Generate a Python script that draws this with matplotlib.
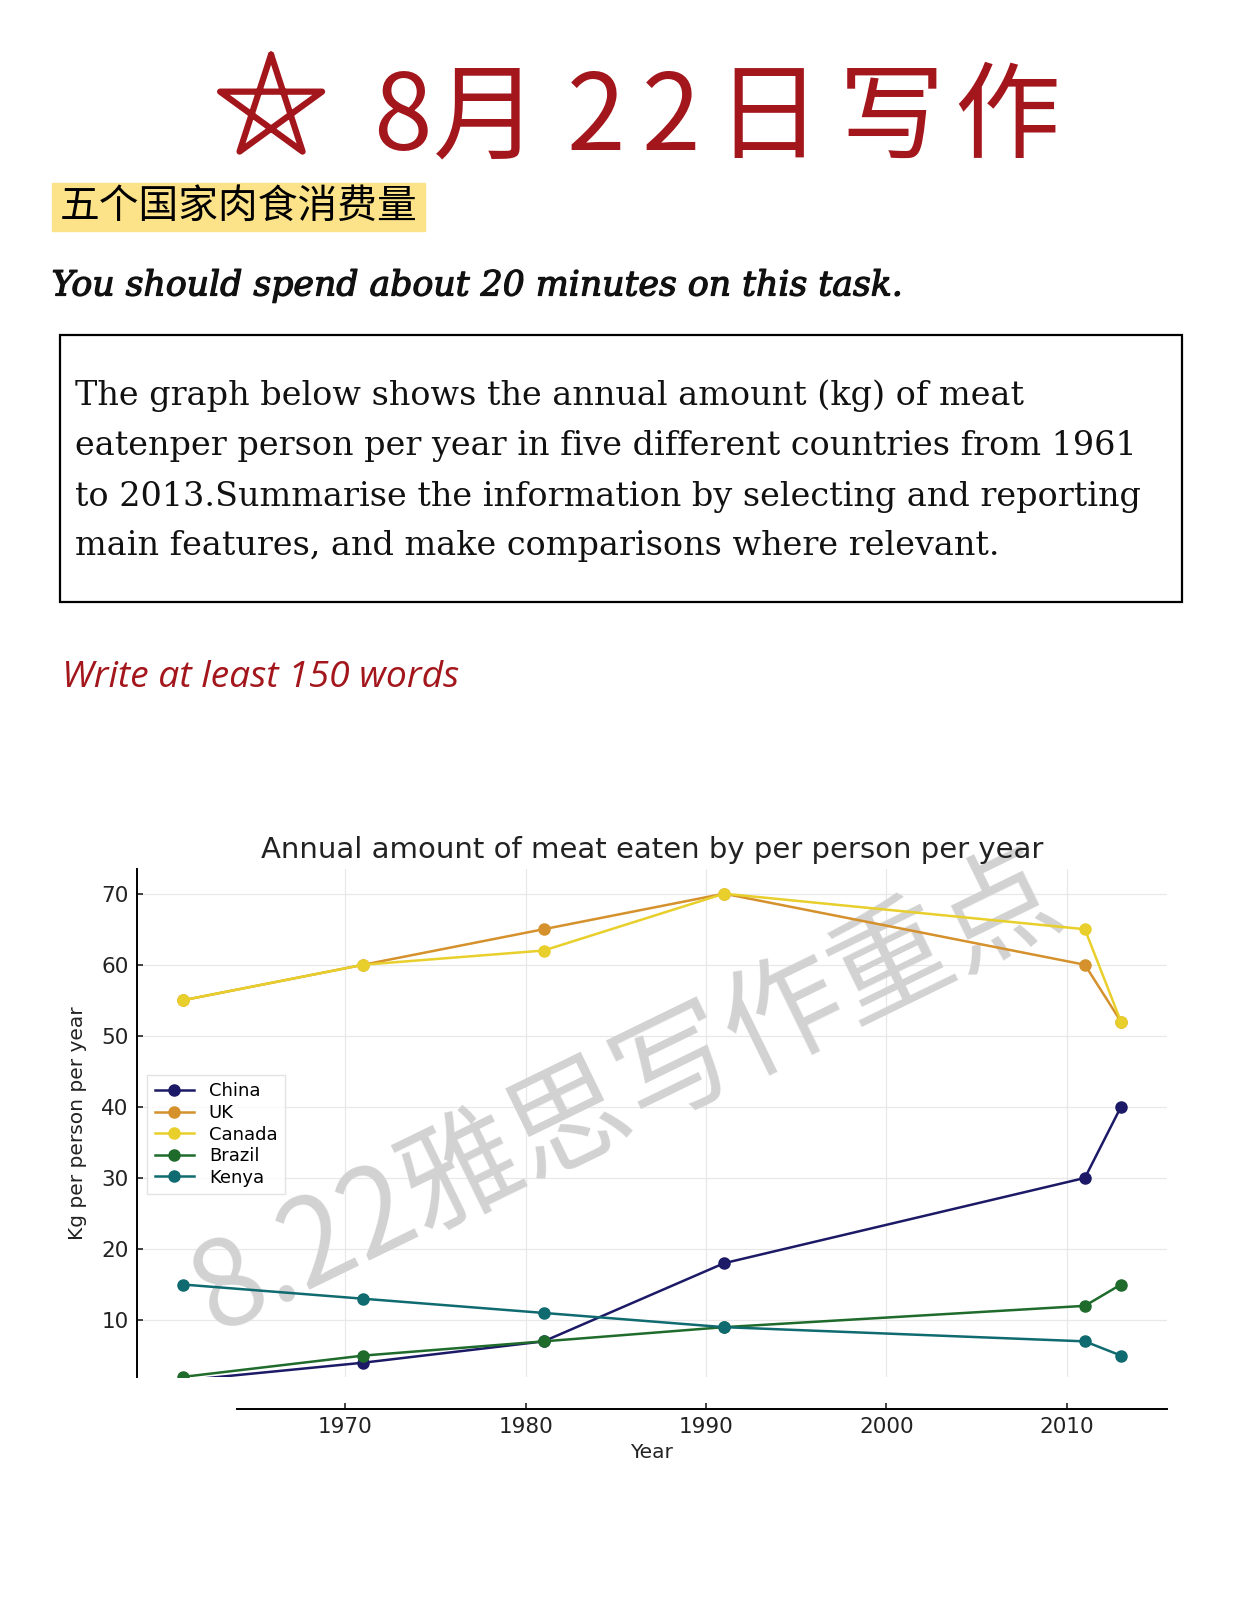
import numpy as np
import matplotlib
matplotlib.use("Agg")
import matplotlib.pyplot as plt
import matplotlib.patheffects as pe
from matplotlib.lines import Line2D
from matplotlib.patches import Rectangle

# 参考图按 1205x1568 的显示尺寸量坐标,再换算成 figure 比例
W, H = 1205, 1568

years = [1961, 1971, 1981, 1991, 2011, 2013]
countries = ["China", "UK", "Canada", "Brazil", "Kenya"]
china = [1.5, 4, 7, 18, 30, 40]
uk = [55, 60, 65, 70, 60, 52]
canada = [55, 60, 62, 70, 65, 52]
brazil = [2, 5, 7, 9, 12, 15]
kenya = [15, 13, 11, 9, 7, 5]
series = [china, uk, canada, brazil, kenya]
colors = ["#1c1a66", "#d4912c", "#e8cf2c", "#1f6b2c", "#0f6b70"]
y_ticks = [10, 20, 30, 40, 50, 60, 70]
x_ticks = [1970, 1980, 1990, 2000, 2010]

RED = "#a3161c"
CJK = ["Noto Sans CJK SC", "DejaVu Sans"]

prompt_lines = [
    "The graph below shows the annual amount (kg) of meat",
    "eatenper person per year in five different countries from 1961",
    "to 2013.Summarise the information by selecting and reporting",
    "main features, and make comparisons where relevant.",
]


def fx(px):
    return px / W


def fy(py):
    return 1 - py / H


def fit_text(fig, s, x0, x1, y, **kw):
    """按参考图里量到的宽度调字号"""
    t = fig.text(fx(x0), fy(y), s, ha="left", va="center", **kw)
    r = fig.canvas.get_renderer()
    w = t.get_window_extent(r).width
    target = (x1 - x0) / W * fig.bbox.width
    t.set_fontsize(t.get_fontsize() * target / w)
    return t


def main():
    fig = plt.figure(figsize=(12.42, 16.16), dpi=100)
    fig.patch.set_facecolor("white")

    # ---- 标题:五角星 + 8月22日写作 ----
    cx, cy, rad = 263, 105, 52
    ang = np.deg2rad(90 + 72 * np.array([0, 2, 4, 1, 3, 0]))
    xs = [fx(cx + rad * np.cos(a)) for a in ang]
    ys = [fy(cy - rad * np.sin(a)) for a in ang]
    fig.add_artist(Line2D(xs, ys, color=RED, lw=4.5, solid_joinstyle="round",
                          solid_capstyle="round", transform=fig.transFigure))

    for ch, x in zip("8月22日写作", [390, 471, 578, 651, 745, 865, 977]):
        fig.text(fx(x), fy(146), ch, ha="center", va="baseline",
                 fontsize=76, color=RED, family=CJK)

    # ---- 黄底小标题 ----
    fig.add_artist(Rectangle((fx(50), fy(224)), fx(412) - fx(50),
                             fy(178) - fy(224), color="#fce38a",
                             transform=fig.transFigure, zorder=0))
    fit_text(fig, "五个国家肉食消费量", 58, 405, 201, fontsize=28,
             color="black", family=CJK, weight="medium")

    # 半粗斜体:普通斜体加一圈细描边
    fit_text(fig, "You should spend about 20 minutes on this task.", 50, 875,
             277, fontsize=30, family="DejaVu Serif", style="italic",
             color="#111111",
             path_effects=[pe.withStroke(linewidth=0.9, foreground="#111111")])

    # ---- 题目框 ----
    fig.add_artist(Rectangle((fx(58), fy(584)), fx(1147) - fx(58),
                             fy(325) - fy(584), fill=False, lw=1.6,
                             edgecolor="black", transform=fig.transFigure))
    t = fit_text(fig, prompt_lines[1], 73, 1103, 433, fontsize=26,
                 family="DejaVu Serif", color="#111111")
    fs = t.get_fontsize()
    for s, y in zip([prompt_lines[0], prompt_lines[2], prompt_lines[3]],
                    [384, 482, 530]):
        fig.text(fx(73), fy(y), s, ha="left", va="center", fontsize=fs,
                 family="DejaVu Serif", color="#111111")

    fit_text(fig, "Write at least 150 words", 60, 446, 658, fontsize=24,
             family="Open Sans", style="italic", color=RED)

    # ---- 折线图 ----
    ax = fig.add_axes([fx(133), fy(1336), fx(1132) - fx(133),
                       fy(843) - fy(1336)])
    for vals, name, c in zip(series, countries, colors):
        ax.plot(years, vals, marker="o", color=c, lw=1.8, ms=8,
                label=name, zorder=3)

    ax.set_xlim(1958.46, 2015.54)
    ax.set_ylim(2, 73.5)
    ax.set_xticks(x_ticks)
    ax.set_yticks(y_ticks)
    ax.grid(True, color="#e8e8e8", lw=0.9)
    ax.set_axisbelow(True)
    for sp in ["top", "right"]:
        ax.spines[sp].set_visible(False)
    ax.spines["left"].set_linewidth(1.4)
    ax.spines["bottom"].set_linewidth(1.4)
    ax.spines["bottom"].set_position(("outward", 23))
    ax.spines["bottom"].set_bounds(1964, 2015.54)
    ax.tick_params(direction="in", length=4, width=1.2, labelsize=15.5,
                   colors="#222222", pad=6)

    ax.set_title("Annual amount of meat eaten by per person per year",
                 fontsize=21, color="#222222", pad=8)
    ax.set_xlabel("Year", fontsize=14.5, color="#222222", labelpad=4)
    ax.set_ylabel("Kg per person per year", fontsize=14.5, color="#222222",
                  labelpad=10)

    leg = ax.legend(loc="upper left", bbox_to_anchor=(0.01, 0.594),
                    borderaxespad=0, fontsize=13, labelspacing=0.2,
                    handlelength=2.2, frameon=True, fancybox=False)
    leg.get_frame().set_edgecolor("#dddddd")

    # 水印
    ax.text(fx(608), fy(1062), "8.22雅思写作重点", transform=fig.transFigure,
            rotation=26, ha="center", va="center", fontsize=86,
            color="#d2d2d2", family=CJK, zorder=1.5, rotation_mode="anchor")

    fig.savefig("out.png", dpi=100, facecolor="white")


if __name__ == "__main__":
    main()
